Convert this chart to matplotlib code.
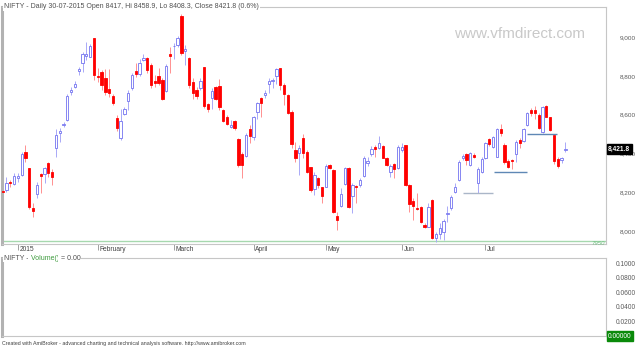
import matplotlib.pyplot as plt
from matplotlib import transforms

plt.rcParams['font.family'] = ['Liberation Sans', 'DejaVu Sans']

# ------ NIFTY daily bars, 26-12-2014 .. 30-07-2015 ------
opens = [8208, 8211, 8255, 8241,
         8273, 8289, 8409, 8323, 8118, 8191, 8292, 8292, 8349, 8306, 8426, 8504, 8548, 8572, 8718, 8744, 8825, 8868, 8902, 8899, 8993,
         8799, 8821, 8787, 8730, 8696, 8581, 8478, 8602, 8672, 8736, 8826, 8809, 8882, 8893, 8856, 8773, 8799, 8778, 8722, 8911,
         8952, 8959, 9108, 8928, 8890, 8770, 8727, 8736, 8844, 8655, 8684, 8741, 8747, 8624, 8589, 8535, 8567, 8473, 8397, 8387, 8524,
         8483, 8615, 8684, 8700, 8758, 8772, 8799, 8842, 8753, 8701, 8615, 8418, 8400, 8478, 8406, 8328, 8215, 8272, 8225,
         8228, 8340, 8314, 8077, 8129, 8242, 8326, 8180, 8232, 8237, 8285, 8352, 8395, 8435, 8429, 8438, 8378, 8303, 8344, 8323,
         8418, 8443, 8237, 8156, 8120, 8125, 8031, 8022, 8160, 7962, 7985, 7996, 8088, 8117, 8203, 8263, 8375, 8397, 8340, 8392, 8246, 8306,
         8375, 8473, 8435, 8383, 8524, 8443, 8362, 8364, 8397, 8469, 8465, 8546, 8624, 8624, 8598, 8512, 8644, 8586, 8495, 8370, 8366, 8417]
highs = [8234, 8278, 8265, 8297,
         8297, 8409, 8443, 8325, 8146, 8254, 8297, 8331, 8357, 8318, 8525, 8529, 8563, 8705, 8741, 8775, 8847, 8924, 8976, 8966, 8996,
         8839, 8830, 8834, 8834, 8705, 8600, 8630, 8641, 8727, 8813, 8868, 8885, 8912, 8899, 8865, 8804, 8839, 8787, 8859, 8950,
         8968, 9007, 9119, 8959, 8899, 8787, 8741, 8787, 8846, 8660, 8736, 8747, 8782, 8630, 8598, 8572, 8572, 8478, 8409, 8504, 8546,
         8593, 8667, 8689, 8727, 8787, 8787, 8840, 8842, 8761, 8706, 8624, 8460, 8443, 8500, 8418, 8331, 8303, 8280, 8228,
         8345, 8345, 8318, 8100, 8220, 8331, 8331, 8246, 8237, 8272, 8387, 8383, 8438, 8443, 8489, 8443, 8383, 8345, 8349, 8443,
         8455, 8446, 8242, 8168, 8194, 8130, 8040, 8146, 8164, 7993, 8040, 8060, 8130, 8185, 8246, 8366, 8397, 8404, 8409, 8400, 8331, 8383,
         8460, 8478, 8489, 8533, 8553, 8452, 8369, 8369, 8469, 8478, 8533, 8616, 8633, 8645, 8610, 8645, 8650, 8590, 8500, 8383, 8383, 8458.9]
lows = [8151, 8203, 8228, 8236,
        8254, 8285, 8357, 8112, 8071, 8169, 8194, 8246, 8280, 8237, 8384, 8460, 8538, 8565, 8701, 8736, 8804, 8821, 8881, 8895, 8778,
        8770, 8727, 8701, 8689, 8650, 8515, 8470, 8598, 8625, 8727, 8795, 8800, 8877, 8813, 8736, 8745, 8753, 8676, 8718, 8813,
        8885, 8947, 8910, 8856, 8736, 8680, 8680, 8727, 8632, 8615, 8627, 8675, 8624, 8560, 8546, 8530, 8520, 8331, 8272, 8383, 8455,
        8470, 8576, 8586, 8684, 8710, 8736, 8760, 8727, 8650, 8603, 8426, 8357, 8289, 8375, 8297, 8203, 8185, 8220, 8145,
        8225, 8318, 8091, 8005, 8125, 8237, 8120, 8091, 8143, 8228, 8280, 8333, 8387, 8383, 8421, 8375, 8335, 8280, 8272, 8318,
        8409, 8233, 8100, 8057, 8108, 8043, 8014, 8019, 7957, 7945, 7957, 7954, 8045, 8108, 8194, 8260, 8366, 8340, 8335, 8375, 8198, 8300,
        8370, 8438, 8430, 8380, 8490, 8348, 8323, 8318, 8357, 8426, 8460, 8541, 8595, 8580, 8524, 8503, 8586, 8517, 8348, 8323, 8349, 8408.3]
closes = [8201, 8246, 8248, 8285,
          8284, 8397, 8378, 8125, 8105, 8237, 8284, 8325, 8301, 8280, 8495, 8515, 8552, 8696, 8727, 8758, 8834, 8912, 8912, 8954, 8804,
          8796, 8753, 8718, 8710, 8661, 8529, 8567, 8627, 8710, 8804, 8808, 8868, 8890, 8830, 8753, 8761, 8765, 8679, 8850, 8900,
          8956, 8993, 8919, 8937, 8753, 8710, 8696, 8775, 8644, 8629, 8723, 8682, 8638, 8569, 8552, 8546, 8529, 8340, 8340, 8495, 8490,
          8586, 8658, 8661, 8713, 8775, 8778, 8834, 8753, 8706, 8607, 8448, 8378, 8426, 8400, 8306, 8211, 8289, 8237, 8182,
          8335, 8326, 8100, 8057, 8191, 8323, 8125, 8237, 8225, 8263, 8378, 8363, 8421, 8421, 8455, 8378, 8340, 8335, 8318, 8435,
          8435, 8237, 8138, 8130, 8115, 8048, 8022, 8125, 7962, 7985, 8014, 8052, 8094, 8177, 8225, 8357, 8387, 8366, 8400, 8383, 8318, 8370,
          8452, 8447, 8483, 8524, 8507, 8357, 8328, 8360, 8460, 8455, 8524, 8608, 8610, 8607, 8529, 8638, 8589, 8521, 8362, 8335, 8375, 8421.8]

# first bar of each month
month_pos = [4, 25, 45, 66, 85, 105, 127]
month_names = ['2015', 'February', 'March', 'April', 'May', 'Jun', 'Jul']

price_ticks = [8000, 8200, 8400, 8600, 8800, 9000]
vol_ticks = [0.02, 0.04, 0.06, 0.08, 0.10]

# support lines (from bar, to bar, level)
sup_from = [121, 129.3, 137.8]
sup_to = [129, 137.9, 145.8]
sup_level = [8196, 8303, 8500]
base_level = 7950

title = 'NIFTY - Daily 30-07-2015 Open 8417, Hi 8458.9, Lo 8408.3, Close 8421.8 (0.6%)'

#------ figura ----------
W, H = 640, 348
fig = plt.figure(figsize=(6.4, 3.48), dpi=100)


def box(x0, y0, x1, y1):
    return [x0 / W, 1 - y1 / H, (x1 - x0) / W, (y1 - y0) / H]


ax = fig.add_axes(box(2, 7, 606, 244))
vax = fig.add_axes(box(2, 258, 606, 336))

n = len(closes)
x = list(range(n))
up = [c >= o for o, c in zip(opens, closes)]
body_lo = [min(o, c) for o, c in zip(opens, closes)]
body_h = [max(abs(c - o), 0.6) for o, c in zip(opens, closes)]

ax.vlines(x, lows, highs, colors=['#a9a9f7' if u else '#ff9090' for u in up], lw=0.7, zorder=2)
ax.bar(x, body_h, bottom=body_lo, width=0.62,
       color=['white' if u else '#ff0000' for u in up],
       edgecolor=['#7373f0' if u else '#ff0000' for u in up], linewidth=0.6, zorder=3)

ax.hlines(sup_level, sup_from, sup_to, colors=['#aab6c8', '#5f88b5', '#5f88b5'], lw=1.0, zorder=4)
ax.axhline(base_level, color='#a6d8ae', lw=1.0, zorder=1)
tr_y = transforms.blended_transform_factory(ax.transAxes, ax.transData)
ax.text(0.998, base_level - 3, str(base_level), transform=tr_y, ha='right', va='top',
        fontsize=4.3, style='italic', color='#6fbf80')

ax.set_xlim(-0.18, 158.7)
ax.set_ylim(7933, 9155)

for s in ax.spines.values():
    s.set_color('#c6c6c6')
    s.set_linewidth(0.8)
ax.spines['left'].set_color('#b2b2b2')
ax.spines['left'].set_linewidth(2.2)

ax.yaxis.tick_right()
ax.set_yticks(price_ticks, labels=['{:,}'.format(v) for v in price_ticks])
ax.tick_params(axis='y', length=0, pad=21.6, labelsize=4.6, labelcolor='#5a5a5a')
for t in ax.get_yticklabels():
    t.set_horizontalalignment('right')

ax.set_xticks(month_pos, labels=[''] * len(month_pos))
ax.tick_params(axis='x', length=4.5, width=0.5, color='#7a7a7a', direction='out')
tr_x = transforms.blended_transform_factory(ax.transData, ax.transAxes)
for p, name in zip(month_pos, month_names):
    ax.text(p + 0.4, -0.008, name, transform=tr_x, ha='left', va='top', fontsize=4.8, color='#404040')

ax.text(0.965, 0.886, 'www.vfmdirect.com', transform=ax.transAxes, ha='right', va='center',
        fontsize=11, color='#c9c9c9')

ax.annotate('{:,.1f}'.format(closes[-1]), xy=(1.0, closes[-1]), xycoords=('axes fraction', 'data'),
            xytext=(1.5, 0), textcoords='offset points', ha='left', va='center', fontsize=4.8,
            color='white', fontweight='bold', annotation_clip=False, zorder=10,
            bbox=dict(boxstyle='square,pad=0.2', fc='black', ec='black'))

fig.text(4 / W, 1 - 7 / H, title, fontsize=5.0, color='#505050', ha='left', va='center',
         bbox=dict(fc='white', ec='none', pad=0.6))

# ------ panel de volumen (vacio) ----------
vax.set_xlim(-0.18, 158.7)
vax.set_ylim(0, 0.107)
vax.set_xticks([])
for s in vax.spines.values():
    s.set_color('#c6c6c6')
    s.set_linewidth(0.8)
vax.spines['left'].set_color('#b2b2b2')
vax.spines['left'].set_linewidth(2.2)
vax.yaxis.tick_right()
vax.set_yticks(vol_ticks, labels=['{:.4f}'.format(v) for v in vol_ticks])
vax.tick_params(axis='y', length=0, pad=21.6, labelsize=4.8, labelcolor='#5a5a5a')
for t in vax.get_yticklabels():
    t.set_horizontalalignment('right')
vax.annotate('0.00000', xy=(1.0, 0), xycoords=('axes fraction', 'data'),
             xytext=(1.5, 0), textcoords='offset points', ha='left', va='center', fontsize=4.8,
             color='white', annotation_clip=False, zorder=10,
             bbox=dict(boxstyle='square,pad=0.2', fc='#0a8a0a', ec='#0a8a0a'))

renderer = fig.canvas.get_renderer()
xpos = 4 / W
for piece, col in [('NIFTY -', '#505050'), (' Volume()', '#3c9a3c'), (' = 0.00', '#505050')]:
    t = fig.text(xpos, 1 - 258 / H, piece, fontsize=5.0, color=col, ha='left', va='center',
                 bbox=dict(fc='white', ec='none', pad=0.6))
    xpos = t.get_window_extent(renderer).x1 / (W * fig.dpi / 100)

fig.text(2 / W, 1 - 344 / H,
         'Created with AmiBroker - advanced charting and technical analysis software. http://www.amibroker.com',
         fontsize=3.8, color='#404040', ha='left', va='center')

fig.savefig('out.png', dpi=100)
